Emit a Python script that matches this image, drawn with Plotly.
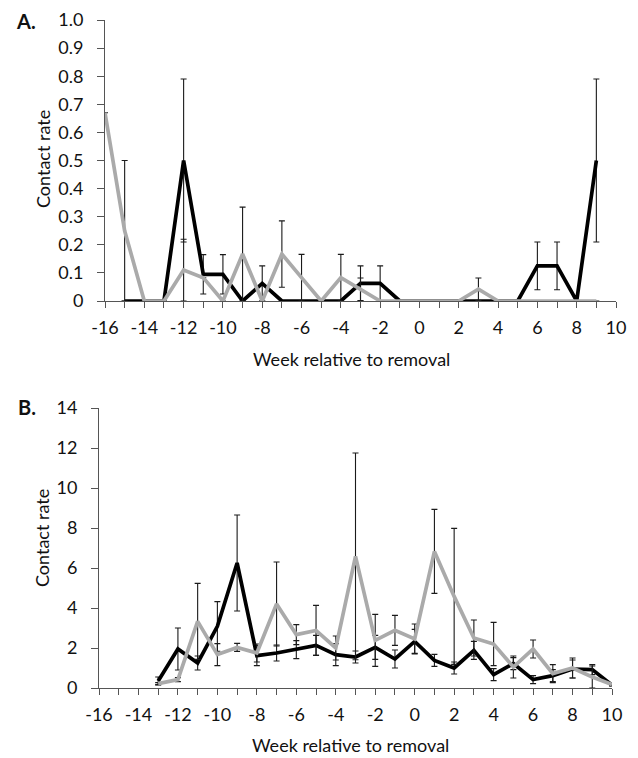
import plotly.graph_objects as go

# ---------------- Data ----------------
# Panel A
weeks_a_black = list(range(-15, 10))
black_a = [0, 0, 0, 0.5, 0.095, 0.095, 0, 0.0625, 0, 0, 0, 0, 0.0625, 0.0625,
           0, 0, 0, 0, 0, 0, 0, 0.125, 0.125, 0, 0.5]
black_a_err = [0, 0, 0, 0.29, 0.07, 0.07, 0, 0.0625, 0, 0, 0, 0, 0.0625, 0.0625,
               0, 0, 0, 0, 0, 0, 0, 0.085, 0.085, 0, 0.29]

weeks_a_grey = list(range(-16, 10))
grey_a = [0.67, 0.25, 0, 0, 0.11, 0.083, 0, 0.167, 0, 0.167, 0.083, 0, 0.083, 0.042,
          0, 0, 0, 0, 0, 0.042, 0, 0, 0, 0, 0, 0]
grey_a_err = [0, 0.25, 0, 0, 0.11, 0, 0, 0.167, 0, 0.118, 0.083, 0, 0.083, 0.04,
              0, 0, 0, 0, 0, 0.04, 0, 0, 0, 0, 0, 0]

# Panel B
weeks_b = list(range(-13, 11))
black_b = [0.35, 1.95, 1.25, 3.08, 6.25, 1.62, 1.75, 1.92, 2.13, 1.67, 1.55, 2.03,
           1.45, 2.33, 1.38, 1.0, 1.88, 0.67, 1.22, 0.42, 0.62, 0.95, 0.92, 0.15]
black_b_err = [0.2, 1.05, 0.35, 1.24, 2.4, 0.5, 0.4, 0.45, 0.5, 0.55, 0.3, 0.6,
               0.45, 0.6, 0.3, 0.3, 0.45, 0.3, 0.3, 0.2, 0.3, 0.45, 0.25, 0.05]
grey_b = [0.22, 0.42, 3.33, 1.67, 2.03, 1.75, 4.2, 2.67, 2.88, 2.0, 6.58, 2.38,
          2.88, 2.45, 6.83, 4.58, 2.5, 2.2, 1.05, 1.95, 0.72, 1.0, 0.55, 0.17]
grey_b_err = [0.05, 0.1, 1.9, 0.55, 0.2, 0.45, 2.1, 0.5, 1.25, 0.6, 5.17, 1.3,
              0.75, 0.75, 2.1, 3.4, 0.9, 1.08, 0.55, 0.45, 0.45, 0.5, 0.55, 0.05]

x_tickvals = list(range(-16, 11, 2))
x_ticktext = [str(v) for v in x_tickvals]
ya_tickvals = [0, 0.1, 0.2, 0.3, 0.4, 0.5, 0.6, 0.7, 0.8, 0.9, 1.0]
ya_ticktext = ["0", "0.1", "0.2", "0.3", "0.4", "0.5", "0.6", "0.7", "0.8", "0.9", "1.0"]
yb_tickvals = [0, 2, 4, 6, 8, 10, 12, 14]
yb_ticktext = [str(v) for v in yb_tickvals]

# ---------------- Styling ----------------
FONT = "Lato, 'Open Sans', sans-serif"
FS = 18
TXT = "#111111"
BLACK = "#000000"
GREY = "#aaaaaa"
ERRC = "#1a1a1a"
AXC = "#555555"
LW = 3.7

# the page body margin is removed by the post script, so the figure sits at (0, 0)
W, H = 638, 758

def fx(px):
    return px / W

def fy(py):
    return 1 - py / H

fig = go.Figure()

def add(x, y, err, color, xa, ya):
    fig.add_trace(go.Scatter(
        x=x, y=y, mode="lines", line=dict(color=color, width=LW),
        error_y=dict(type="data", array=err, visible=True, color=ERRC,
                     thickness=1.1, width=3),
        xaxis=xa, yaxis=ya, cliponaxis=False, showlegend=False,
        hoverinfo="skip"))

add(weeks_a_black, black_a, black_a_err, BLACK, "x", "y")
add(weeks_a_grey, grey_a, grey_a_err, GREY, "x", "y")
add(weeks_b, black_b, black_b_err, BLACK, "x2", "y2")
add(weeks_b, grey_b, grey_b_err, GREY, "x2", "y2")

def xaxis(domain, anchor):
    return dict(domain=domain, anchor=anchor, range=[-16, 10], automargin=False,
                tickvals=x_tickvals, ticktext=x_ticktext,
                ticks="outside", ticklen=6, tickwidth=1, tickcolor=AXC,
                ticklabelstandoff=4,
                minor=dict(dtick=1, tick0=0, ticks="outside", ticklen=6,
                           tickwidth=1, tickcolor=AXC),
                showline=True, linecolor=AXC, linewidth=1,
                showgrid=False, zeroline=False,
                tickfont=dict(size=FS, color=TXT, family=FONT))

def yaxis(domain, anchor, rng, tv, tt):
    return dict(domain=domain, anchor=anchor, range=rng, automargin=False,
                tickvals=tv, ticktext=tt,
                ticks="outside", ticklen=7, tickwidth=1, tickcolor=AXC,
                ticklabelstandoff=10,
                showline=True, linecolor=AXC, linewidth=1,
                showgrid=False, zeroline=False,
                tickfont=dict(size=FS, color=TXT, family=FONT))

def ann(text, x, y, angle=0, size=FS, bold=False):
    return dict(text=("<b>%s</b>" % text) if bold else text,
                x=fx(x), y=fy(y), xref="paper", yref="paper",
                xanchor="center", yanchor="middle", showarrow=False,
                textangle=angle, font=dict(size=size, family=FONT, color=TXT))

fig.update_layout(
    width=W, height=H,
    margin=dict(l=0, r=0, t=0, b=0, autoexpand=False),
    paper_bgcolor="white", plot_bgcolor="white",
    font=dict(family=FONT, color=TXT),
    xaxis=xaxis([fx(105), fx(616)], "y"),
    yaxis=yaxis([fy(301), fy(20)], "x", [0, 1], ya_tickvals, ya_ticktext),
    xaxis2=xaxis([fx(99), fx(612)], "y2"),
    yaxis2=yaxis([fy(688), fy(408)], "x2", [0, 14], yb_tickvals, yb_ticktext),
    annotations=[
        ann("A.", 26, 21, size=20, bold=True),
        ann("B.", 27, 407, size=20, bold=True),
        ann("Contact rate", 43, 159, angle=-90),
        ann("Contact rate", 42, 538, angle=-90),
        ann("Week relative to removal", 351, 359),
        ann("Week relative to removal", 350, 745),
    ],
)

fig.write_html(
    "out.html",
    config={"displayModeBar": False},
    post_script="document.body.style.margin='0';document.body.style.overflow='hidden';",
)
